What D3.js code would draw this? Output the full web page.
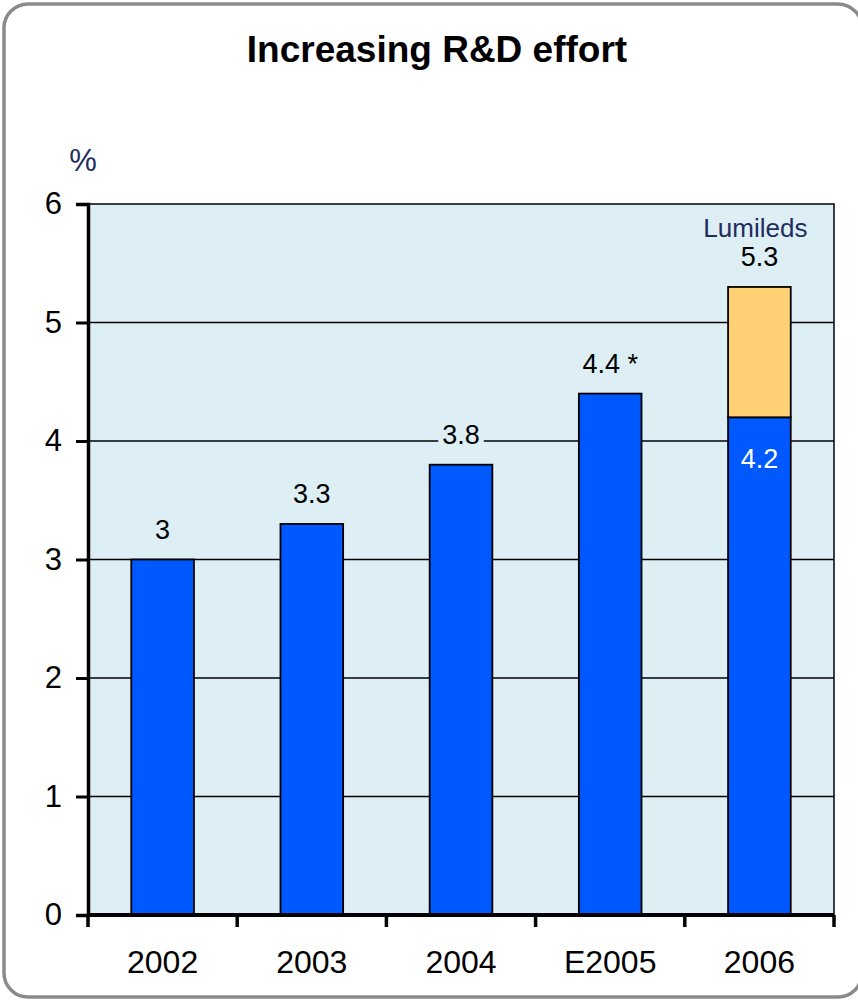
<!DOCTYPE html>
<html>
<head>
<meta charset="utf-8">
<script src="https://cdn.jsdelivr.net/npm/d3@7"></script>
<style>
  html, body { margin: 0; padding: 0; background: #ffffff; }
  svg { display: block; }
  text { font-family: "Liberation Sans", Arial, sans-serif; }
</style>
</head>
<body>
<svg id="chart" width="858" height="1001"></svg>
<script>
// R&D spend as % of sales
const categories = ["2002", "2003", "2004", "E2005", "2006"];
const baseValues = [3.0, 3.3, 3.8, 4.4, 4.2];
const lumiledsValues = [0, 0, 0, 0, 1.1];
const totalLabels = ["3", "3.3", "3.8", "4.4 *", "5.3"];
const yTicks = [0, 1, 2, 3, 4, 5, 6];

const svg = d3.select("#chart");
const W = 858, H = 1001;
const margin = { left: 88, right: 24, top: 204, bottom: 86 };
const plotW = W - margin.left - margin.right;
const plotH = H - margin.top - margin.bottom;

// outer rounded frame
svg.append("rect")
  .attr("x", 4).attr("y", 4)
  .attr("width", 858).attr("height", 993)
  .attr("rx", 24).attr("ry", 24)
  .attr("fill", "#ffffff")
  .attr("stroke", "#8a8a8a").attr("stroke-width", 3.5);

svg.append("text")
  .attr("x", 437).attr("y", 62)
  .attr("text-anchor", "middle")
  .attr("font-weight", "bold").attr("font-size", 37)
  .attr("fill", "#000")
  .text("Increasing R&D effort");

const g = svg.append("g").attr("transform", `translate(${margin.left},${margin.top})`);

const x = d3.scaleBand().domain(categories).range([0, plotW]).paddingInner(0.58).paddingOuter(0.29);
const y = d3.scaleLinear().domain([0, 6]).range([plotH, 0]);

// plot background
g.append("rect")
  .attr("x", 0).attr("y", 0).attr("width", plotW).attr("height", plotH)
  .attr("fill", "#ddeef5").attr("stroke", "#000").attr("stroke-width", 1.5);

// horizontal gridlines
g.append("g").selectAll("line")
  .data(yTicks.filter(t => t > 0 && t < 6))
  .join("line")
  .attr("x1", 0).attr("x2", plotW)
  .attr("y1", d => y(d)).attr("y2", d => y(d))
  .attr("stroke", "#000").attr("stroke-width", 1.5);

// base bars
g.append("g").selectAll("rect")
  .data(categories)
  .join("rect")
  .attr("x", (d) => x(d))
  .attr("width", x.bandwidth())
  .attr("y", (d, i) => y(baseValues[i]))
  .attr("height", (d, i) => y(0) - y(baseValues[i]))
  .attr("fill", "#0059ff")
  .attr("stroke", "#000").attr("stroke-width", 1.8);

// Lumileds segment stacked on top
g.append("g").selectAll("rect")
  .data(categories.map((c, i) => ({ c, i })).filter(d => lumiledsValues[d.i] > 0))
  .join("rect")
  .attr("x", d => x(d.c))
  .attr("width", x.bandwidth())
  .attr("y", d => y(baseValues[d.i] + lumiledsValues[d.i]))
  .attr("height", d => y(baseValues[d.i]) - y(baseValues[d.i] + lumiledsValues[d.i]))
  .attr("fill", "#ffd174")
  .attr("stroke", "#000").attr("stroke-width", 1.8);

// total labels above bars
const labels = g.append("g").selectAll("g")
  .data(categories)
  .join("g")
  .attr("transform", (d, i) => `translate(${x(d) + x.bandwidth() / 2},${y(baseValues[i] + lumiledsValues[i]) - 21})`);
labels.append("text")
  .attr("text-anchor", "middle")
  .attr("font-size", 27).attr("fill", "#000")
  .text((d, i) => totalLabels[i])
  .each(function () {
    const b = this.getBBox();
    d3.select(this.parentNode).insert("rect", "text")
      .attr("x", b.x - 4).attr("y", b.y).attr("width", b.width + 8).attr("height", b.height)
      .attr("fill", "#ddeef5");
  });

// 4.2 label inside the 2006 base bar
const li = categories.indexOf("2006");
g.append("text")
  .attr("x", x("2006") + x.bandwidth() / 2)
  .attr("y", y(baseValues[li]) + 51)
  .attr("text-anchor", "middle")
  .attr("font-size", 27).attr("fill", "#ffffff")
  .text(String(baseValues[li]));

g.append("text")
  .attr("x", x("2006") + x.bandwidth() / 2 - 4)
  .attr("y", y(6) + 33)
  .attr("text-anchor", "middle")
  .attr("font-size", 26).attr("fill", "#1f2d5c")
  .text("Lumileds");

// axes
const yAxis = g.append("g")
  .call(d3.axisLeft(y).tickValues(yTicks).tickSize(12).tickPadding(14).tickFormat(d3.format("d")));
yAxis.select(".domain").attr("stroke", "#000").attr("stroke-width", 3.5);
yAxis.selectAll(".tick line").attr("stroke", "#000").attr("stroke-width", 3);
yAxis.selectAll(".tick text").attr("font-size", 31).attr("fill", "#000")
  .attr("font-family", "Liberation Sans, Arial, sans-serif");

const xEdges = d3.scaleLinear().domain([0, categories.length]).range([0, plotW]);
const xAxis = g.append("g").attr("transform", `translate(0,${plotH})`);
xAxis.append("line").attr("x1", 0).attr("x2", plotW).attr("stroke", "#000").attr("stroke-width", 4);
xAxis.selectAll(".edge")
  .data(d3.range(categories.length + 1))
  .join("line").attr("class", "edge")
  .attr("x1", d => xEdges(d)).attr("x2", d => xEdges(d))
  .attr("y1", 0).attr("y2", 12)
  .attr("stroke", "#000").attr("stroke-width", 3.5);
xAxis.selectAll(".cat")
  .data(categories)
  .join("text").attr("class", "cat")
  .attr("x", d => x(d) + x.bandwidth() / 2)
  .attr("y", 58)
  .attr("text-anchor", "middle")
  .attr("font-size", 32).attr("fill", "#000")
  .text(d => d);

svg.append("text")
  .attr("x", 83).attr("y", 171)
  .attr("text-anchor", "middle")
  .attr("font-size", 31).attr("fill", "#1f2d5c")
  .text("%");
</script>
</body>
</html>
